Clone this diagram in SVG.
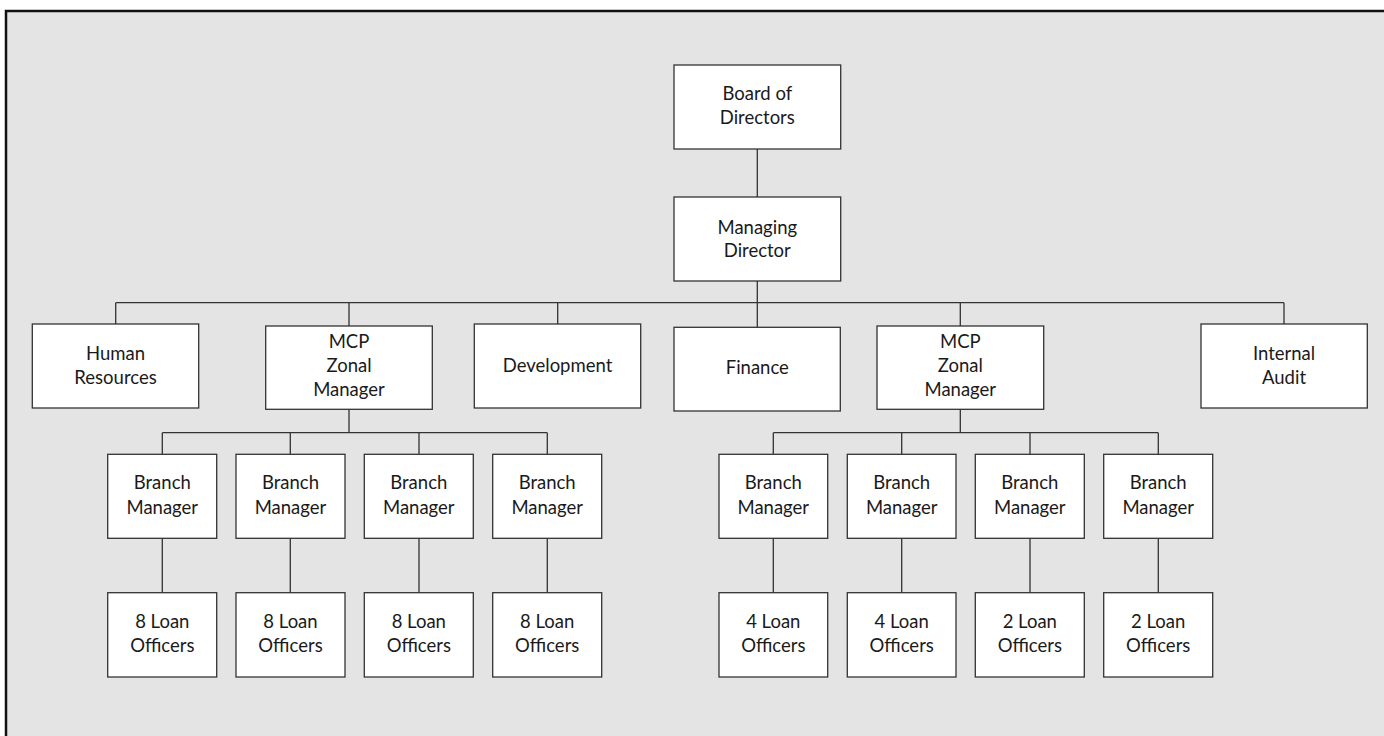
<svg xmlns="http://www.w3.org/2000/svg" width="1384" height="736" viewBox="0 0 1384 736">
<style>
.frame{fill:#e4e4e4;stroke:#111;stroke-width:2.5}
.box{fill:#fff;stroke:#333;stroke-width:1.3}
.ln{fill:none;stroke:#333;stroke-width:1.3}
text{font-family:Lato,"Open Sans",sans-serif;font-size:18.5px;fill:#1a1a1a;text-anchor:middle}
</style>
<rect width="1384" height="736" fill="#ffffff"/>
<rect class="frame" x="6" y="11" width="1400" height="740"/>
<g id="connectors">
<path class="ln" d="M757.3 149V197M757.3 281V327M115.7 302.7H1284M115.7 302.7V324M349 302.7V326M557.7 302.7V324M960.3 302.7V326M1284 302.7V324"/>
<path class="ln" d="M349 409V432.7M162.3 432.7H547.3M162.3 432.7V454M290.3 432.7V454M419 432.7V454M547.3 432.7V454M162.3 538V592.7M290.3 538V592.7M419 538V592.7M547.3 538V592.7"/>
<path class="ln" d="M960.3 409V432.7M773.3 432.7H1158.3M773.3 432.7V454M901.7 432.7V454M1030 432.7V454M1158.3 432.7V454M773.3 538V592.7M901.7 538V592.7M1030 538V592.7M1158.3 538V592.7"/>
</g>
<g id="board"><rect class="box" x="674" y="65" width="166.7" height="84"/><text x="757.3" y="100">Board of</text><text x="757.3" y="124">Directors</text></g>
<g id="md"><rect class="box" x="674" y="197" width="166.7" height="84"/><text x="757.3" y="234">Managing</text><text x="757.3" y="257">Director</text></g>
<g id="hr"><rect class="box" x="32.3" y="324" width="166.4" height="84"/><text x="115.5" y="360">Human</text><text x="115.5" y="384">Resources</text></g>
<g id="mcp1"><rect class="box" x="265.7" y="326" width="166.6" height="83.3"/><text x="349" y="348">MCP</text><text x="349" y="372">Zonal</text><text x="349" y="396">Manager</text></g>
<g id="dev"><rect class="box" x="474.3" y="324" width="166.4" height="84"/><text x="557.5" y="372">Development</text></g>
<g id="finance"><rect class="box" x="674" y="327.3" width="166.3" height="83.7"/><text x="757.3" y="374">Finance</text></g>
<g id="mcp2"><rect class="box" x="877" y="326" width="166.7" height="83.3"/><text x="960.3" y="348">MCP</text><text x="960.3" y="372">Zonal</text><text x="960.3" y="396">Manager</text></g>
<g id="audit"><rect class="box" x="1201" y="324" width="166.3" height="84"/><text x="1284" y="360">Internal</text><text x="1284" y="384">Audit</text></g>
<g id="bm1"><rect class="box" x="107.7" y="454.3" width="109" height="84"/><text x="162.3" y="489">Branch</text><text x="162.3" y="514">Manager</text></g>
<g id="bm2"><rect class="box" x="236" y="454.3" width="109" height="84"/><text x="290.5" y="489">Branch</text><text x="290.5" y="514">Manager</text></g>
<g id="bm3"><rect class="box" x="364.3" y="454.3" width="109" height="84"/><text x="418.8" y="489">Branch</text><text x="418.8" y="514">Manager</text></g>
<g id="bm4"><rect class="box" x="492.7" y="454.3" width="109" height="84"/><text x="547.2" y="489">Branch</text><text x="547.2" y="514">Manager</text></g>
<g id="lo1"><rect class="box" x="107.7" y="592.7" width="109" height="84.3"/><text x="162.3" y="628">8 Loan</text><text x="162.3" y="652">Officers</text></g>
<g id="lo2"><rect class="box" x="236" y="592.7" width="109" height="84.3"/><text x="290.5" y="628">8 Loan</text><text x="290.5" y="652">Officers</text></g>
<g id="lo3"><rect class="box" x="364.3" y="592.7" width="109" height="84.3"/><text x="418.8" y="628">8 Loan</text><text x="418.8" y="652">Officers</text></g>
<g id="lo4"><rect class="box" x="492.7" y="592.7" width="109" height="84.3"/><text x="547.2" y="628">8 Loan</text><text x="547.2" y="652">Officers</text></g>
<g id="bm5"><rect class="box" x="719" y="454.3" width="108.7" height="84"/><text x="773.3" y="489">Branch</text><text x="773.3" y="514">Manager</text></g>
<g id="bm6"><rect class="box" x="847.3" y="454.3" width="108.7" height="84"/><text x="901.7" y="489">Branch</text><text x="901.7" y="514">Manager</text></g>
<g id="bm7"><rect class="box" x="975.3" y="454.3" width="109" height="84"/><text x="1029.8" y="489">Branch</text><text x="1029.8" y="514">Manager</text></g>
<g id="bm8"><rect class="box" x="1103.7" y="454.3" width="109" height="84"/><text x="1158.2" y="489">Branch</text><text x="1158.2" y="514">Manager</text></g>
<g id="lo5"><rect class="box" x="719" y="592.7" width="108.7" height="84.3"/><text x="773.3" y="628">4 Loan</text><text x="773.3" y="652">Officers</text></g>
<g id="lo6"><rect class="box" x="847.3" y="592.7" width="108.7" height="84.3"/><text x="901.7" y="628">4 Loan</text><text x="901.7" y="652">Officers</text></g>
<g id="lo7"><rect class="box" x="975.3" y="592.7" width="109" height="84.3"/><text x="1029.8" y="628">2 Loan</text><text x="1029.8" y="652">Officers</text></g>
<g id="lo8"><rect class="box" x="1103.7" y="592.7" width="109" height="84.3"/><text x="1158.2" y="628">2 Loan</text><text x="1158.2" y="652">Officers</text></g>
</svg>
